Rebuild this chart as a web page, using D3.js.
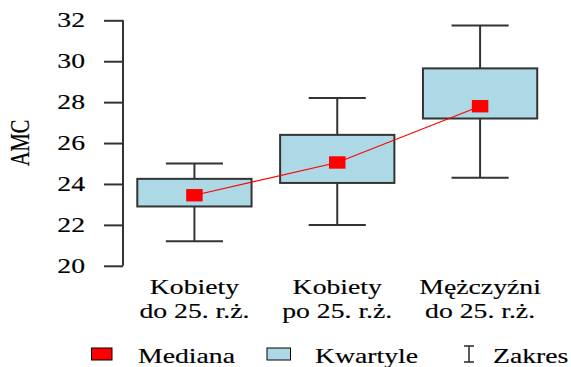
<!DOCTYPE html>
<html>
<head>
<meta charset="utf-8">
<script src="https://cdn.jsdelivr.net/npm/d3@7"></script>
<style>
  html, body { margin: 0; padding: 0; background: #fff; }
  svg { display: block; }
</style>
</head>
<body>
<svg id="chart" width="571" height="367"></svg>
<script>
// Group labels (two lines each)
const categories = [
  ["Kobiety", "do 25. r.ż."],
  ["Kobiety", "po 25. r.ż."],
  ["Mężczyźni", "do 25. r.ż."]
];
// Summary statistics of AMC per group
const minValues    = [21.2, 22.0, 24.3];
const q1Values     = [22.9, 24.05, 27.2];
const medianValues = [23.45, 25.05, 27.8];
const q3Values     = [24.25, 26.4, 29.65];
const maxValues    = [25.0, 28.2, 31.75];
const yTicks = [20, 22, 24, 26, 28, 30, 32];
const legendLabels = ["Mediana", "Kwartyle", "Zakres"];

const FONT = "'Liberation Serif', 'Times New Roman', 'DejaVu Serif', serif";
const svg = d3.select("#chart").attr("font-family", FONT);
const sx = 1.32;        // horizontal stretch applied to text glyphs
const fontSize = 21;

const x = d3.scaleLinear().domain([0.5, 3.5]).range([123, 551.5]);
const y = d3.scaleLinear().domain([20, 32]).range([265.8, 20.3]);
const boxW = x(1.4) - x(0.6);
const capW = x(1.2) - x(0.8);
const medW = 16.5, medH = 12.4;

const stroke = "#333";

function label(sel) {
  return sel.attr("font-family", FONT).attr("fill", "#000")
    .attr("stroke", "#000").attr("stroke-width", 0.15);
}

// Y axis
const axis = svg.append("g").attr("transform", "translate(123,0)")
  .call(d3.axisLeft(y).tickValues(yTicks).tickSize(19).tickFormat(""));
axis.select(".domain").attr("stroke", stroke).attr("stroke-width", 2)
  .attr("d", `M0,${y(20)}V${y(32)}`);
axis.selectAll(".tick line").attr("stroke", stroke).attr("stroke-width", 2);

svg.append("g").selectAll("text").data(yTicks).join("text")
  .call(label)
  .attr("transform", d => `translate(85,${y(d)}) scale(${sx},1)`)
  .attr("text-anchor", "end")
  .attr("dy", "0.34em")
  .attr("font-size", fontSize)
  .text(d => d);

svg.append("text")
  .call(label)
  .attr("transform", `translate(29,143) scale(${sx},1) rotate(-90)`)
  .attr("text-anchor", "middle")
  .attr("font-size", 20.5)
  .text("AMC");

const idx = d3.range(categories.length);
const g = svg.append("g");

// Whiskers
g.selectAll(".whisker").data(idx).join("line")
  .attr("x1", i => x(i + 1)).attr("x2", i => x(i + 1))
  .attr("y1", i => y(minValues[i])).attr("y2", i => y(maxValues[i]))
  .attr("stroke", stroke).attr("stroke-width", 2);
g.selectAll(".capTop").data(idx).join("line")
  .attr("x1", i => x(i + 1) - capW / 2).attr("x2", i => x(i + 1) + capW / 2)
  .attr("y1", i => y(maxValues[i])).attr("y2", i => y(maxValues[i]))
  .attr("stroke", stroke).attr("stroke-width", 2);
g.selectAll(".capBot").data(idx).join("line")
  .attr("x1", i => x(i + 1) - capW / 2).attr("x2", i => x(i + 1) + capW / 2)
  .attr("y1", i => y(minValues[i])).attr("y2", i => y(minValues[i]))
  .attr("stroke", stroke).attr("stroke-width", 2);

// Quartile boxes
g.selectAll(".box").data(idx).join("rect")
  .attr("x", i => x(i + 1) - boxW / 2)
  .attr("width", boxW)
  .attr("y", i => y(q3Values[i]))
  .attr("height", i => y(q1Values[i]) - y(q3Values[i]))
  .attr("fill", "#ADD8E6")
  .attr("stroke", stroke).attr("stroke-width", 2);

// Median line and markers
g.append("path")
  .datum(idx)
  .attr("d", d3.line().x(i => x(i + 1)).y(i => y(medianValues[i])))
  .attr("fill", "none").attr("stroke", "#ff0000").attr("stroke-width", 1.2);
g.selectAll(".med").data(idx).join("rect")
  .attr("x", i => x(i + 1) - medW / 2)
  .attr("y", i => y(medianValues[i]) - medH / 2)
  .attr("width", medW).attr("height", medH)
  .attr("fill", "#ff0000");

// Category labels
const cat = svg.append("g").selectAll("g").data(idx).join("g");
cat.each(function (i) {
  const sel = d3.select(this);
  categories[i].forEach((line, k) => {
    sel.append("text")
      .call(label)
      .attr("transform", `translate(${x(i + 1)},${294 + k * 24}) scale(${sx},1)`)
      .attr("text-anchor", "middle")
      .attr("font-size", fontSize)
      .text(line);
  });
});

// Legend
const leg = svg.append("g");
leg.append("rect").attr("x", 91.5).attr("y", 348).attr("width", 20.5).attr("height", 12)
  .attr("fill", "#ff0000").attr("stroke", "#000").attr("stroke-width", 1);
leg.append("text").call(label).attr("transform", `translate(138,363) scale(${sx},1)`)
  .attr("font-size", fontSize).text(legendLabels[0]);
leg.append("rect").attr("x", 267).attr("y", 348).attr("width", 23.5).attr("height", 12)
  .attr("fill", "#ADD8E6").attr("stroke", "#000").attr("stroke-width", 1);
leg.append("text").call(label).attr("transform", `translate(315,363) scale(${sx},1)`)
  .attr("font-size", fontSize).text(legendLabels[1]);
const zx = 469;
leg.append("line").attr("x1", zx).attr("x2", zx).attr("y1", 346).attr("y2", 362)
  .attr("stroke", stroke).attr("stroke-width", 1.6);
leg.append("line").attr("x1", zx - 5).attr("x2", zx + 5).attr("y1", 346).attr("y2", 346)
  .attr("stroke", stroke).attr("stroke-width", 1.6);
leg.append("line").attr("x1", zx - 5).attr("x2", zx + 5).attr("y1", 362).attr("y2", 362)
  .attr("stroke", stroke).attr("stroke-width", 1.6);
leg.append("text").call(label).attr("transform", `translate(493,363) scale(${sx},1)`)
  .attr("font-size", fontSize).text(legendLabels[2]);
</script>
</body>
</html>
